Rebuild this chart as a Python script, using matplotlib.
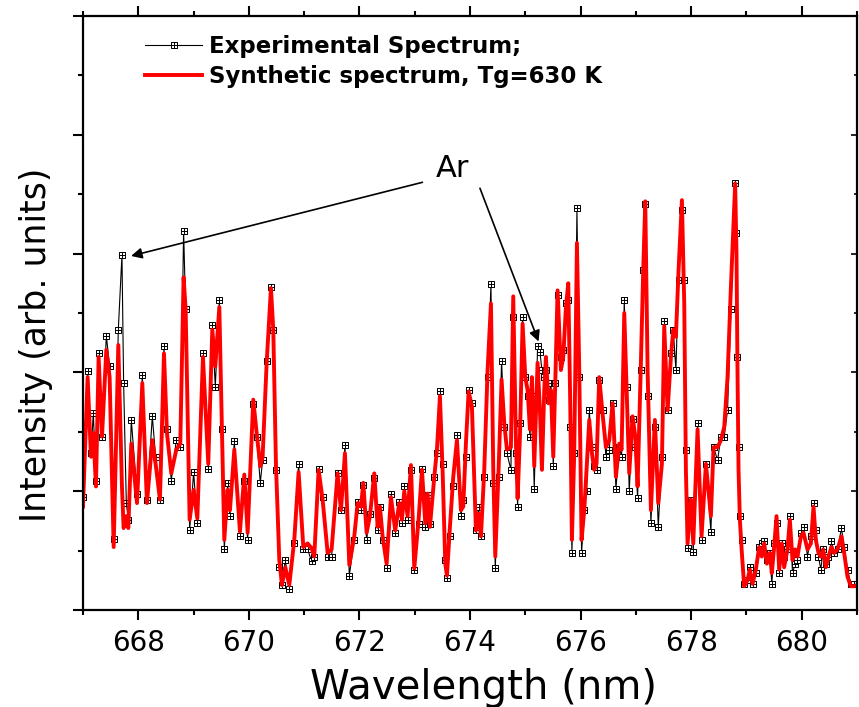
import matplotlib
matplotlib.use('Agg')
import matplotlib.pyplot as plt
from matplotlib.path import Path
from matplotlib.ticker import MultipleLocator, NullFormatter

# values (wavelength in nm, intensity in arb. units)
wavelength = [
    667.000, 667.084, 667.145, 667.187, 667.235, 667.283, 667.344, 667.422, 667.482, 667.555,
    667.639, 667.705, 667.735, 667.784, 667.820, 667.874, 667.977, 668.073, 668.157, 668.254,
    668.314, 668.392, 668.465, 668.519, 668.597, 668.688, 668.760, 668.820, 668.857, 668.929,
    669.001, 669.068, 669.170, 669.266, 669.339,
    669.393, 669.466, 669.514, 669.556, 669.616, 669.658, 669.737, 669.839, 669.918, 669.978,
    670.080, 670.141, 670.207, 670.249, 670.322, 670.400, 670.442, 670.490, 670.551, 670.599,
    670.659, 670.731, 670.822, 670.900, 670.985, 671.063, 671.135, 671.183, 671.262, 671.334,
    671.425, 671.497, 671.605, 671.666, 671.738,
    671.817, 671.907, 671.967, 672.028, 672.070, 672.130, 672.190, 672.269, 672.329, 672.371,
    672.419, 672.492, 672.570, 672.648, 672.721, 672.769, 672.811, 672.871, 672.932, 672.992,
    673.070, 673.131, 673.191, 673.233, 673.275, 673.354, 673.402, 673.456, 673.504, 673.553,
    673.583, 673.637, 673.697, 673.764, 673.836, 673.878, 673.926, 673.975, 674.035,
    674.107, 674.155, 674.198, 674.258, 674.318, 674.379, 674.421, 674.457, 674.517, 674.571,
    674.620, 674.668, 674.740, 674.782, 674.831, 674.861, 674.903, 674.951, 675.000, 675.042,
    675.084, 675.120, 675.162, 675.222, 675.265, 675.301, 675.343, 675.373, 675.421, 675.464,
    675.506, 675.542, 675.584, 675.644, 675.687, 675.735, 675.777, 675.813, 675.843, 675.885,
    675.934, 675.976, 676.018, 676.066, 676.108, 676.157, 676.205, 676.247, 676.289, 676.337,
    676.398,
    676.458, 676.519, 676.579, 676.639, 676.699, 676.742, 676.790, 676.832, 676.880, 676.940,
    676.989, 677.031, 677.091, 677.133, 677.170, 677.212, 677.272, 677.344, 677.405, 677.471,
    677.513, 677.574, 677.634, 677.676, 677.724, 677.772, 677.833, 677.875, 677.905, 677.935,
    677.995, 678.038, 678.116, 678.188, 678.267, 678.357, 678.405, 678.478, 678.538, 678.598,
    678.658, 678.719,
    678.796, 678.820, 678.838, 678.857, 678.881, 678.917, 678.959, 679.019, 679.061, 679.110,
    679.170, 679.230, 679.278, 679.321, 679.369, 679.423, 679.459, 679.501, 679.544, 679.592,
    679.640, 679.682, 679.742, 679.785, 679.833, 679.881, 679.923, 679.984, 680.032, 680.104,
    680.165, 680.213, 680.255, 680.303, 680.345, 680.388, 680.436, 680.484, 680.538, 680.586,
    680.647, 680.719, 680.767, 680.828, 680.888, 680.948, 681.000,
]

synthetic = [
    0.87, 1.96, 1.29, 1.49, 1.04, 2.13, 1.46, 2.19, 1.96, 0.53,
    2.23, 1.04, 0.69, 0.79, 0.69, 1.40, 0.90, 1.91, 0.90, 1.43,
    1.23, 0.93, 2.16, 1.49, 1.15, 1.35, 1.40, 2.80, 2.53, 0.76,
    1.01, 0.77, 2.13, 1.23, 2.36,
    2.05, 2.55, 1.52, 0.59, 1.01, 0.84, 1.35, 0.66, 1.14, 0.65,
    1.77, 1.49, 1.21, 1.29, 2.08, 2.71, 2.36, 1.23, 0.42, 0.21,
    0.36, 0.21, 0.59, 1.16, 0.53, 0.56, 0.52, 0.45, 1.18, 0.93,
    0.48, 0.51, 1.15, 0.84, 1.32,
    0.38, 0.62, 0.90, 0.87, 1.07, 0.65, 0.79, 1.15, 0.70, 0.87,
    0.62, 0.39, 0.95, 0.67, 0.90, 0.76, 1.00, 0.79, 1.22, 0.35,
    0.76, 1.18, 0.73, 0.98, 0.70, 1.12, 1.35, 1.80, 1.18, 0.39,
    0.29, 0.70, 1.12, 1.43, 0.84, 0.87, 1.40, 1.84, 1.71,
    0.67, 0.81, 0.62, 1.18, 2.02, 2.58, 1.18, 0.45, 1.18, 1.94,
    1.57, 1.35, 1.37, 2.64, 1.40, 0.94, 1.46, 2.41, 1.96, 1.85,
    1.52, 1.96, 1.21, 2.08, 1.68, 1.18, 1.85, 2.13, 1.74, 1.85,
    1.29, 1.91, 2.69, 2.02, 2.13, 2.55, 2.75, 1.74, 0.59, 1.32,
    3.09, 2.02, 0.59, 0.84, 1.18, 1.60, 1.32, 1.18, 1.23, 1.96,
    1.65,
    1.37, 1.43, 1.74, 1.12, 1.40, 1.35, 2.50, 1.88, 1.15, 1.63,
    1.46, 1.04, 2.08, 2.86, 3.44, 2.02, 0.84, 1.60, 0.90, 1.23,
    2.39, 1.68, 2.13, 2.36, 2.30, 2.86, 3.45, 2.58, 1.18, 0.56,
    0.93, 0.56, 1.52, 0.62, 1.23, 0.79, 1.37, 1.37, 1.43, 1.54,
    1.96, 2.72,
    3.59, 3.00, 2.02, 1.18, 0.76, 0.48, 0.20, 0.25, 0.34, 0.22,
    0.34, 0.53, 0.45, 0.56, 0.39, 0.48, 0.31, 0.53, 0.79, 0.34,
    0.56, 0.36, 0.51, 0.76, 0.42, 0.51, 0.45, 0.62, 0.65, 0.51,
    0.56, 0.87, 0.59, 0.48, 0.45, 0.51, 0.36, 0.45, 0.53, 0.48,
    0.51, 0.62, 0.48, 0.28, 0.20, 0.20, 0.21,
]

experimental = [
    0.95, 2.01, 1.32, 1.66, 1.09, 2.16, 1.46, 2.31, 2.05, 0.60,
    2.36, 2.99, 1.91, 0.90, 0.76, 1.60, 0.98, 1.98, 0.93, 1.63,
    1.29, 0.93, 2.22, 1.52, 1.09, 1.43, 1.37, 3.19, 2.53, 0.67,
    1.16, 0.73, 2.16, 1.19, 2.40,
    1.88, 2.61, 1.52, 0.51, 1.07, 0.79, 1.42, 0.62, 1.09, 0.59,
    1.73, 1.46, 1.07, 1.26, 2.10, 2.72, 2.36, 1.18, 0.36, 0.21,
    0.42, 0.18, 0.56, 1.23, 0.51, 0.51, 0.41, 0.45, 1.19, 0.95,
    0.45, 0.45, 1.15, 0.84, 1.39,
    0.29, 0.59, 0.91, 0.84, 1.05, 0.59, 0.81, 1.11, 0.67, 0.87,
    0.59, 0.35, 0.98, 0.65, 0.91, 0.73, 1.04, 0.76, 1.18, 0.34,
    0.72, 1.19, 0.70, 0.97, 0.72, 1.12, 1.32, 1.84, 1.23, 0.42,
    0.27, 0.62, 1.04, 1.47, 0.79, 0.93, 1.29, 1.85, 1.74,
    0.67, 0.87, 0.62, 1.12, 1.96, 2.74, 1.07, 0.35, 1.12, 2.10,
    1.54, 1.32, 1.18, 2.47, 1.32, 0.87, 1.57, 2.47, 1.96, 1.80,
    1.46, 1.80, 1.02, 2.22, 2.17, 2.02, 1.96, 2.02, 1.77, 1.91,
    1.21, 1.91, 2.65, 2.13, 2.19, 2.58, 2.61, 1.54, 0.48, 1.32,
    3.38, 1.96, 0.48, 0.84, 1.00, 1.68, 1.37, 1.21, 1.18, 1.94,
    1.68,
    1.29, 1.35, 1.74, 1.02, 1.37, 1.29, 2.61, 1.88, 1.00, 1.61,
    1.37, 0.94, 2.02, 2.86, 3.42, 1.80, 0.73, 1.54, 0.70, 1.29,
    2.43, 1.68, 2.16, 2.36, 2.02, 2.78, 3.37, 2.78, 1.35, 0.52,
    0.93, 0.49, 1.57, 0.59, 1.23, 0.66, 1.37, 1.26, 1.46, 1.46,
    1.68, 2.53,
    3.59, 3.17, 2.13, 1.37, 0.79, 0.59, 0.22, 0.25, 0.36, 0.22,
    0.31, 0.53, 0.56, 0.58, 0.42, 0.48, 0.22, 0.56, 0.73, 0.31,
    0.56, 0.45, 0.51, 0.79, 0.31, 0.39, 0.42, 0.65, 0.70, 0.45,
    0.62, 0.90, 0.67, 0.45, 0.34, 0.51, 0.39, 0.45, 0.58, 0.48,
    0.51, 0.69, 0.53, 0.34, 0.22, 0.22, 0.22,
]

# square marker with a cross inside, like Origin's
box_cross = Path(
    [(-1, -1), (1, -1), (1, 1), (-1, 1), (-1, -1), (0, -1), (0, 1), (-1, 0), (1, 0)],
    [Path.MOVETO, Path.LINETO, Path.LINETO, Path.LINETO, Path.CLOSEPOLY,
     Path.MOVETO, Path.LINETO, Path.MOVETO, Path.LINETO])

plt.rcParams['font.family'] = ['DejaVu Sans']

fig = plt.figure(figsize=(8.59, 7.07), dpi=100)
ax = fig.add_axes([0.0966, 0.1372, 0.9011, 0.8402])

ax.plot(wavelength, experimental, color='black', linewidth=0.8, marker=box_cross,
        markersize=4.2, markerfacecolor='white', markeredgecolor='black',
        markeredgewidth=0.7, label='Experimental Spectrum;')
ax.plot(wavelength, synthetic, color='red', linewidth=2.8,
        label='Synthetic spectrum, Tg=630 K')

ax.set_xlim(667, 681)
ax.set_ylim(0, 5)
ax.xaxis.set_major_locator(MultipleLocator(2))
ax.xaxis.set_minor_locator(MultipleLocator(1))
ax.yaxis.set_major_locator(MultipleLocator(1))
ax.yaxis.set_minor_locator(MultipleLocator(0.5))
ax.yaxis.set_major_formatter(NullFormatter())

for s in ax.spines.values():
    s.set_linewidth(1.6)
ax.tick_params(which='both', direction='out', top=True, right=False, width=1.5,
               labelsize=20, pad=7)
ax.tick_params(which='major', length=7)
ax.tick_params(which='minor', length=3.5)

right = ax.secondary_yaxis('right')
right.yaxis.set_major_locator(MultipleLocator(1))
right.yaxis.set_minor_locator(MultipleLocator(0.5))
right.yaxis.set_major_formatter(NullFormatter())
right.tick_params(which='both', direction='in', width=1.2)
right.tick_params(which='major', length=4)
right.tick_params(which='minor', length=2)

fig.text(484 / 859, 1 - 688 / 707, 'Wavelength (nm)', fontsize=29,
         ha='center', va='center')
fig.text(36 / 859, 1 - 345 / 707, 'Intensity (arb. units)', fontsize=25,
         rotation=90, ha='center', va='center')

ax.legend(loc='upper left', bbox_to_anchor=(0.08, 0.968), frameon=False,
          borderaxespad=0, borderpad=0, handlelength=2.5, handletextpad=0.3,
          labelspacing=0.3, numpoints=1, prop={'weight': 'bold', 'size': 16.5})

# Ar line annotations
ax.text(673.69, 3.72, 'Ar', fontsize=22, ha='center', va='center')
arrow = dict(arrowstyle='-|>', color='black', lw=1.2, mutation_scale=16,
             shrinkA=0, shrinkB=0)
ax.annotate('', xy=(667.87, 2.98), xytext=(673.14, 3.60), arrowprops=arrow)
ax.annotate('', xy=(675.24, 2.26), xytext=(674.18, 3.55), arrowprops=arrow)

fig.savefig('out.png', dpi=100)
